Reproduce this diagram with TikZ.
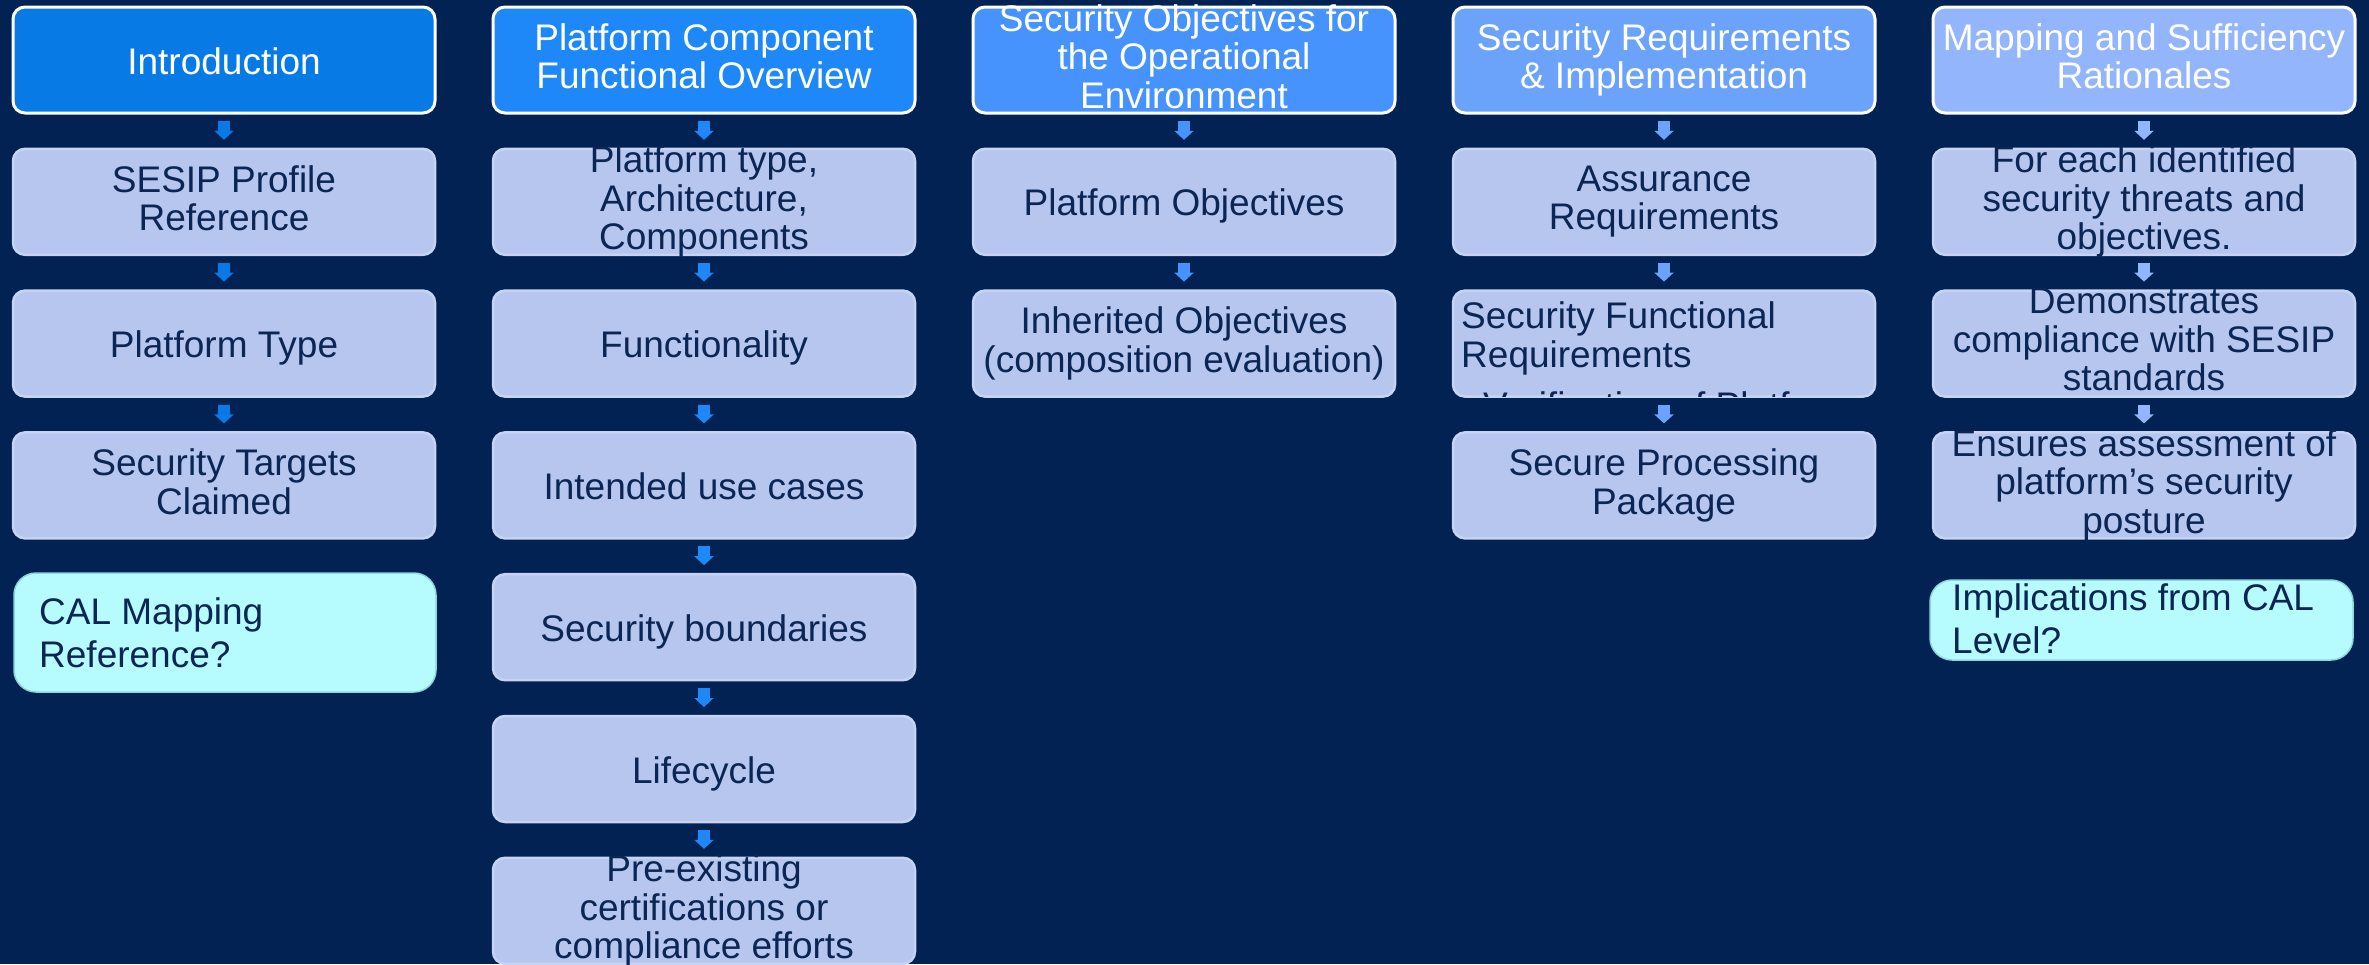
\documentclass[tikz,border=0pt]{standalone}
\usepackage{fontspec}
\setmainfont{Liberation Sans}
\usetikzlibrary{arrows.meta}

% palette
\definecolor{bgnavy}{HTML}{012252}
\definecolor{headA}{HTML}{077AE6}
\definecolor{headB}{HTML}{1E88F8}
\definecolor{headC}{HTML}{4793FD}
\definecolor{headD}{HTML}{6CA3FA}
\definecolor{headE}{HTML}{93B5FB}
\definecolor{itemfill}{HTML}{B6C6EE}
\definecolor{itemline}{HTML}{C7D3F3}
\definecolor{notefill}{HTML}{B6FBFE}
\definecolor{noteline}{HTML}{8FD6DC}
\definecolor{inktext}{HTML}{0B2554}

% struts that give every text block the same ascent/descent
\newcommand\topstrut{\rule{0pt}{36pt}}
\newcommand\botstrut{\rule[-7.8pt]{0pt}{7.8pt}}

\tikzset{
  boxbase/.style={rectangle, minimum width=422pt, minimum height=106pt,
    inner sep=0pt, outer sep=0pt, rounded corners=12pt},
  headbox/.style={boxbase, draw=white, line width=3pt, fill=#1},
  itembox/.style={boxbase, draw=itemline, line width=2.5pt, fill=itemfill},
  notebox/.style={rectangle, inner sep=0pt, outer sep=0pt, rounded corners=22pt,
    fill=notefill, draw=noteline, line width=1.5pt},
  boxtext/.style={inner sep=0pt, align=center, font=\fontsize{37}{38.5}\selectfont,
    execute at begin node=\topstrut, execute at end node=\botstrut},
  headtext/.style={boxtext, text=white},
  itemtext/.style={boxtext, text=inktext},
  notetext/.style={itemtext, align=left, anchor=west, font=\fontsize{37}{43}\selectfont},
  cliptext/.style={inner sep=0pt, text=inktext, font=\fontsize{37}{38.5}\selectfont},
  flow/.style={draw=#1, line width=12pt, -{Triangle[width=19pt,length=9pt]},
    shorten <=8pt, shorten >=9pt},
}

\begin{document}
\begin{tikzpicture}[x=1pt, y=-1pt]
\useasboundingbox (0,0) rectangle (2369,964);
\fill[bgnavy] (0,0) rectangle (2369,964);

% ---------- column 1 : Introduction ----------
\node[headbox=headA] (h1) at (224,60) {};
\node[headtext] (h1t) at (h1) {Introduction};
\node[itembox] (a1) at (224,201.8) {};
\node[itemtext] (a1t) at (a1) {SESIP Profile\\Reference};
\node[itembox] (a2) at (224,343.6) {};
\node[itemtext] (a2t) at (a2) {Platform Type};
\node[itembox] (a3) at (224,485.4) {};
\node[itemtext] (a3t) at (a3) {Security Targets\\Claimed};
\node[notebox, minimum width=422pt, minimum height=119pt] (an) at (225,632.5) {};
\node[notetext] (ant) at (39,636) {CAL Mapping\\Reference?};

\draw[flow=headA] (h1.south) -- (a1.north);
\draw[flow=headA] (a1.south) -- (a2.north);
\draw[flow=headA] (a2.south) -- (a3.north);

% ---------- column 2 : Platform Component Functional Overview ----------
\node[headbox=headB] (h2) at (704,60) {};
\node[headtext] (h2t) at (h2) {Platform Component\\Functional Overview};
\node[itembox] (b1) at (704,201.8) {};
\node[itemtext] (b1t) at (b1) {Platform type,\\Architecture,\\Components};
\node[itembox] (b2) at (704,343.6) {};
\node[itemtext] (b2t) at (b2) {Functionality};
\node[itembox] (b3) at (704,485.4) {};
\node[itemtext] (b3t) at (b3) {Intended use cases};
\node[itembox] (b4) at (704,627.2) {};
\node[itemtext] (b4t) at (b4) {Security boundaries};
\node[itembox] (b5) at (704,769) {};
\node[itemtext] (b5t) at (b5) {Lifecycle};
\node[itembox] (b6) at (704,910.8) {};
\node[itemtext] (b6t) at (b6) {Pre-existing\\certifications or\\compliance efforts};

\draw[flow=headB] (h2.south) -- (b1.north);
\draw[flow=headB] (b1.south) -- (b2.north);
\draw[flow=headB] (b2.south) -- (b3.north);
\draw[flow=headB] (b3.south) -- (b4.north);
\draw[flow=headB] (b4.south) -- (b5.north);
\draw[flow=headB] (b5.south) -- (b6.north);

% ---------- column 3 : Security Objectives ----------
\node[headbox=headC] (h3) at (1184,60) {};
\node[headtext] (h3t) at (h3) {Security Objectives for\\the Operational\\Environment};
\node[itembox] (c1) at (1184,201.8) {};
\node[itemtext] (c1t) at (c1) {Platform Objectives};
\node[itembox] (c2) at (1184,343.6) {};
\node[itemtext] (c2t) at (c2) {Inherited Objectives\\(composition evaluation)};

\draw[flow=headC] (h3.south) -- (c1.north);
\draw[flow=headC] (c1.south) -- (c2.north);

% ---------- column 4 : Security Requirements ----------
\node[headbox=headD] (h4) at (1664,60) {};
\node[headtext] (h4t) at (h4) {Security Requirements\\\& Implementation};
\node[itembox] (d1) at (1664,201.8) {};
\node[itemtext] (d1t) at (d1) {Assurance\\Requirements};
\node[itembox] (d2) at (1664,343.6) {};
\node[itemtext, align=left, anchor=west] (d2t) at (1461,338.5) {Security Functional\\Requirements};
\begin{scope}
  \clip (1455,290) rectangle (1805,396);
  \node[cliptext, anchor=base west] (d2more) at (1483,418) {Verification of Platf};
\end{scope}
\node[itembox] (d3) at (1664,485.4) {};
\node[itemtext] (d3t) at (d3) {Secure Processing\\Package};

\draw[flow=headD] (h4.south) -- (d1.north);
\draw[flow=headD] (d1.south) -- (d2.north);
\draw[flow=headD] (d2.south) -- (d3.north);

% ---------- column 5 : Mapping and Sufficiency Rationales ----------
\node[headbox=headE] (h5) at (2144,60) {};
\node[headtext] (h5t) at (h5) {Mapping and Sufficiency\\Rationales};
\node[itembox] (e1) at (2144,201.8) {};
\node[itemtext] (e1t) at (e1) {For each identified\\security threats and\\objectives.};
\node[itembox] (e2) at (2144,343.6) {};
\node[itemtext] (e2t) at (e2) {Demonstrates\\compliance with SESIP\\standards};
\node[itembox] (e3) at (2144,485.4) {};
\node[itemtext] (e3t) at (e3) {Ensures assessment of\\platform’s security\\posture};
\node[notebox, minimum width=423pt, minimum height=80pt] (en) at (2141.5,620) {};
\node[notetext] (ent) at (1952,622) {Implications from CAL\\Level?};

\draw[flow=headE] (h5.south) -- (e1.north);
\draw[flow=headE] (e1.south) -- (e2.north);
\draw[flow=headE] (e2.south) -- (e3.north);
\end{tikzpicture}
\end{document}
